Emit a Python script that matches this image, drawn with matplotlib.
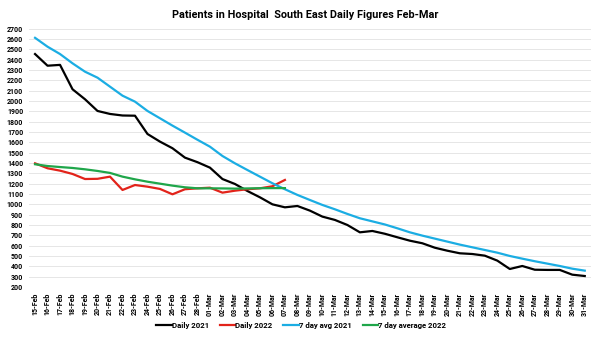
import matplotlib
matplotlib.use('Agg')
import matplotlib.pyplot as plt
import numpy as np

plt.rcParams['font.family'] = ['Roboto', 'DejaVu Sans']

# 15-Feb .. 31-Mar
days = [f'{d}-Feb' for d in range(15, 29)] + [f'{d:02d}-Mar' for d in range(1, 32)]

daily_2021 = [2455, 2342, 2350, 2114, 2017, 1904, 1875, 1860, 1858, 1681, 1607, 1543, 1452, 1408,
              1355, 1245, 1197, 1129, 1068, 1000, 971, 984, 939, 881, 849, 800, 729, 742, 715,
              681, 648, 623, 580, 551, 526, 519, 503, 455, 374, 403, 367, 365, 365, 319, 306]
avg7_2021 = [2612, 2526, 2455, 2365, 2284, 2226, 2139, 2052, 1994, 1904, 1833, 1762, 1694, 1625,
             1558, 1468, 1397, 1332, 1268, 1204, 1146, 1091, 1042, 994, 952, 907, 865, 835, 805,
             768, 729, 697, 668, 639, 610, 584, 558, 532, 500, 474, 449, 426, 403, 377, 358]
daily_2022 = [1397, 1349, 1326, 1294, 1245, 1247, 1268, 1139, 1187, 1171, 1149, 1097, 1146, 1155,
              1161, 1113, 1132, 1146, 1155, 1175, 1236]
avg7_2022 = [1388, 1371, 1361, 1352, 1339, 1323, 1304, 1268, 1242, 1219, 1200, 1181, 1165, 1155,
             1155, 1154, 1152, 1154, 1156, 1157, 1157]

x = np.arange(len(days))
fig = plt.figure(figsize=(6, 3.38), dpi=100)
ax = fig.add_axes([0.048, 0.151, 0.937, 0.764])

lw = 1.6
ax.plot(x, daily_2021, color='black', lw=lw, label='Daily 2021')
ax.plot(x[:len(daily_2022)], daily_2022, color='#e2231a', lw=lw, label='Daily 2022')
ax.plot(x, avg7_2021, color='#1bade3', lw=lw, label='7 day avg 2021')
ax.plot(x[:len(avg7_2022)], avg7_2022, color='#1fa64a', lw=lw, label='7 day average 2022')

ax.set_xlim(-0.5, len(days) - 0.5)
ax.set_ylim(200, 2700)
ax.set_yticks(range(200, 2701, 100))
ax.set_xticks(x)
ax.set_xticklabels(days, rotation=90)
ax.tick_params(axis='both', labelsize=5.0, length=0, pad=4)
for lab in ax.get_xticklabels() + ax.get_yticklabels():
    lab.set_fontweight('bold')
ax.grid(axis='y', color='#e6e6e6', lw=0.7)
ax.set_axisbelow(True)
for s in ax.spines.values():
    s.set_visible(False)

fig.text(0.508, 0.955, 'Patients in Hospital  South East Daily Figures Feb-Mar',
         ha='center', va='center', fontsize=7.8, fontweight='bold')
fig.legend(loc='center', bbox_to_anchor=(0.502, 0.038), ncol=4, frameon=False,
           prop={'size': 5.6, 'weight': 'bold'}, handlelength=2.0, handletextpad=0.0,
           columnspacing=1.4)

fig.savefig('out.png', dpi=100)
